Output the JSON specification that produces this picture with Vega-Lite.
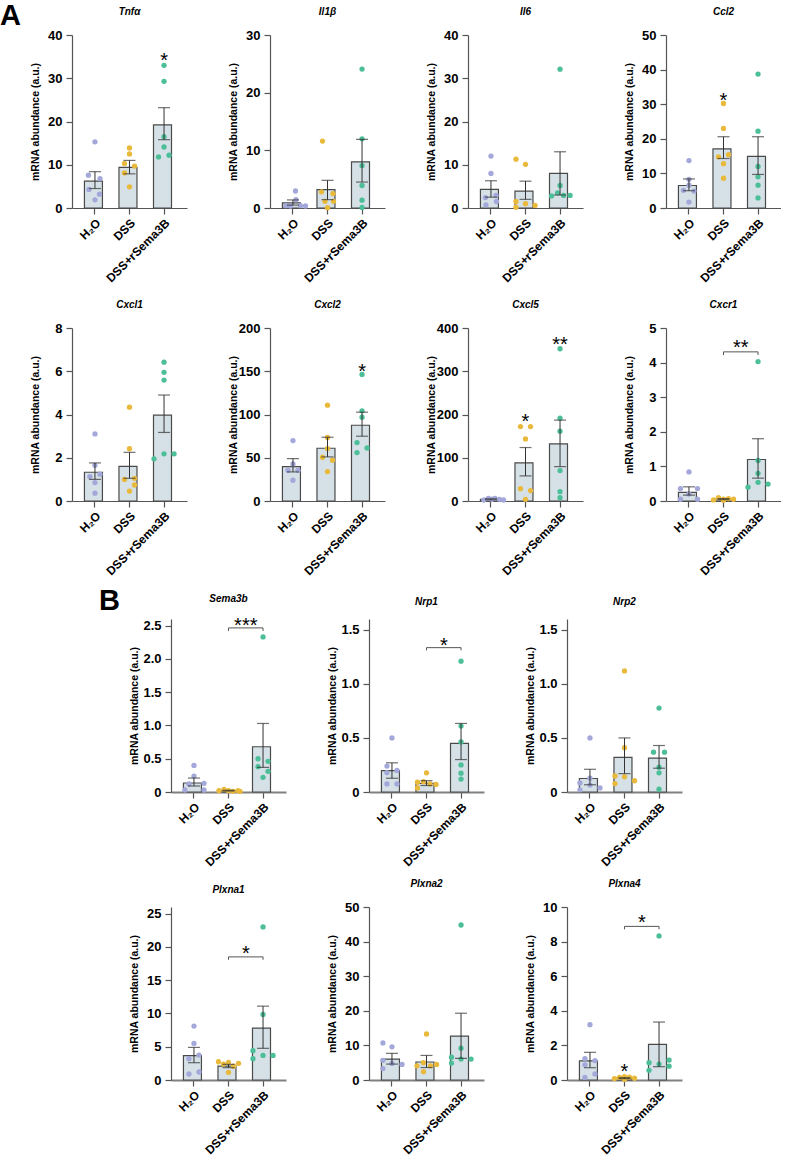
{
"$schema": "https://vega.github.io/schema/vega-lite/v6.json",
"padding": {"left": 0, "top": 2, "right": 0, "bottom": 0},
"data": {"name": "d"},
"datasets": {"d": [
{"gene":"Tnfα","group":"H₂O","mean":6.2,"lo":4.5,"hi":8.4},
{"gene":"Tnfα","group":"DSS","mean":9.4,"lo":7.9,"hi":11.0},
{"gene":"Tnfα","group":"DSS+rSema3B","mean":19.2,"lo":15.8,"hi":23.2},
{"gene":"Tnfα","group":"H₂O","v":15.3,"j":0},{"gene":"Tnfα","group":"H₂O","v":7.6,"j":-1.3},{"gene":"Tnfα","group":"H₂O","v":6.8,"j":1},{"gene":"Tnfα","group":"H₂O","v":4.3,"j":-1.2},{"gene":"Tnfα","group":"H₂O","v":3.2,"j":0.9},{"gene":"Tnfα","group":"H₂O","v":1.9,"j":0},
{"gene":"Tnfα","group":"DSS","v":13.9,"j":0},{"gene":"Tnfα","group":"DSS","v":12.5,"j":0},{"gene":"Tnfα","group":"DSS","v":10.3,"j":-1},{"gene":"Tnfα","group":"DSS","v":9.7,"j":1},{"gene":"Tnfα","group":"DSS","v":8.1,"j":-1},{"gene":"Tnfα","group":"DSS","v":4.9,"j":0},
{"gene":"Tnfα","group":"DSS+rSema3B","v":33.0,"j":0},{"gene":"Tnfα","group":"DSS+rSema3B","v":29.3,"j":0},{"gene":"Tnfα","group":"DSS+rSema3B","v":16.5,"j":0},{"gene":"Tnfα","group":"DSS+rSema3B","v":14.1,"j":0},{"gene":"Tnfα","group":"DSS+rSema3B","v":11.8,"j":-1.1},{"gene":"Tnfα","group":"DSS+rSema3B","v":12.2,"j":1},
{"gene":"Tnfα","group":"DSS+rSema3B","star":"*","sy":35.4},

{"gene":"Il1β","group":"H₂O","mean":0.9,"lo":0.5,"hi":1.4},
{"gene":"Il1β","group":"DSS","mean":3.2,"lo":1.45,"hi":4.8},
{"gene":"Il1β","group":"DSS+rSema3B","mean":8.0,"lo":4.5,"hi":11.9},
{"gene":"Il1β","group":"H₂O","v":2.95,"j":0.5},{"gene":"Il1β","group":"H₂O","v":1.45,"j":0.6},{"gene":"Il1β","group":"H₂O","v":0.4,"j":-1.4},{"gene":"Il1β","group":"H₂O","v":0.35,"j":-0.5},{"gene":"Il1β","group":"H₂O","v":0.4,"j":1.5},{"gene":"Il1β","group":"H₂O","v":0.35,"j":2.5},
{"gene":"Il1β","group":"DSS","v":11.6,"j":-1},{"gene":"Il1β","group":"DSS","v":2.8,"j":-1.2},{"gene":"Il1β","group":"DSS","v":2.5,"j":1.1},{"gene":"Il1β","group":"DSS","v":1.15,"j":-0.5},{"gene":"Il1β","group":"DSS","v":1.15,"j":1.2},{"gene":"Il1β","group":"DSS","v":0.05,"j":0},
{"gene":"Il1β","group":"DSS+rSema3B","v":24.1,"j":0},{"gene":"Il1β","group":"DSS+rSema3B","v":12.0,"j":0},{"gene":"Il1β","group":"DSS+rSema3B","v":7.35,"j":0},{"gene":"Il1β","group":"DSS+rSema3B","v":3.9,"j":0},{"gene":"Il1β","group":"DSS+rSema3B","v":1.35,"j":0},{"gene":"Il1β","group":"DSS+rSema3B","v":0.1,"j":0},

{"gene":"Il6","group":"H₂O","mean":4.3,"lo":2.5,"hi":6.3},
{"gene":"Il6","group":"DSS","mean":3.9,"lo":2.0,"hi":6.2},
{"gene":"Il6","group":"DSS+rSema3B","mean":8.0,"lo":3.0,"hi":13.0},
{"gene":"Il6","group":"H₂O","v":12.0,"j":0},{"gene":"Il6","group":"H₂O","v":8.0,"j":0},{"gene":"Il6","group":"H₂O","v":2.4,"j":-1.1},{"gene":"Il6","group":"H₂O","v":2.9,"j":1},{"gene":"Il6","group":"H₂O","v":1.5,"j":1.1},{"gene":"Il6","group":"H₂O","v":0.7,"j":-1},
{"gene":"Il6","group":"DSS","v":11.3,"j":-1.9},{"gene":"Il6","group":"DSS","v":10.1,"j":0},{"gene":"Il6","group":"DSS","v":1.5,"j":-1.9},{"gene":"Il6","group":"DSS","v":1.0,"j":0},{"gene":"Il6","group":"DSS","v":0.2,"j":-1.9},{"gene":"Il6","group":"DSS","v":0.6,"j":1.9},
{"gene":"Il6","group":"DSS+rSema3B","v":32.1,"j":0},{"gene":"Il6","group":"DSS+rSema3B","v":5.2,"j":0},{"gene":"Il6","group":"DSS+rSema3B","v":2.8,"j":-1.7},{"gene":"Il6","group":"DSS+rSema3B","v":3.5,"j":-0.5},{"gene":"Il6","group":"DSS+rSema3B","v":2.9,"j":0.7},{"gene":"Il6","group":"DSS+rSema3B","v":2.9,"j":2},

{"gene":"Ccl2","group":"H₂O","mean":6.5,"lo":5.0,"hi":8.4},
{"gene":"Ccl2","group":"DSS","mean":17.1,"lo":14.3,"hi":20.6},
{"gene":"Ccl2","group":"DSS+rSema3B","mean":14.9,"lo":9.7,"hi":20.6},
{"gene":"Ccl2","group":"H₂O","v":13.7,"j":0},{"gene":"Ccl2","group":"H₂O","v":8.3,"j":0},{"gene":"Ccl2","group":"H₂O","v":6.6,"j":0},{"gene":"Ccl2","group":"H₂O","v":5.1,"j":-1.1},{"gene":"Ccl2","group":"H₂O","v":4.9,"j":1},{"gene":"Ccl2","group":"H₂O","v":1.7,"j":0},
{"gene":"Ccl2","group":"DSS","v":30.2,"j":0},{"gene":"Ccl2","group":"DSS","v":23.0,"j":0},{"gene":"Ccl2","group":"DSS","v":14.8,"j":-1},{"gene":"Ccl2","group":"DSS","v":15.4,"j":1},{"gene":"Ccl2","group":"DSS","v":12.8,"j":0},{"gene":"Ccl2","group":"DSS","v":8.6,"j":0},
{"gene":"Ccl2","group":"DSS+rSema3B","v":38.7,"j":0},{"gene":"Ccl2","group":"DSS+rSema3B","v":22.2,"j":0},{"gene":"Ccl2","group":"DSS+rSema3B","v":12.0,"j":0},{"gene":"Ccl2","group":"DSS+rSema3B","v":9.0,"j":0},{"gene":"Ccl2","group":"DSS+rSema3B","v":6.6,"j":0},{"gene":"Ccl2","group":"DSS+rSema3B","v":2.9,"j":0},
{"gene":"Ccl2","group":"DSS","star":"*","sy":32.8},

{"gene":"Cxcl1","group":"H₂O","mean":1.33,"lo":1.0,"hi":1.76},
{"gene":"Cxcl1","group":"DSS","mean":1.6,"lo":1.05,"hi":2.25},
{"gene":"Cxcl1","group":"DSS+rSema3B","mean":3.97,"lo":3.17,"hi":4.9},
{"gene":"Cxcl1","group":"H₂O","v":3.1,"j":0},{"gene":"Cxcl1","group":"H₂O","v":1.65,"j":0},{"gene":"Cxcl1","group":"H₂O","v":1.13,"j":-1},{"gene":"Cxcl1","group":"H₂O","v":1.24,"j":1},{"gene":"Cxcl1","group":"H₂O","v":0.85,"j":0},{"gene":"Cxcl1","group":"H₂O","v":0.36,"j":0},
{"gene":"Cxcl1","group":"DSS","v":4.34,"j":0},{"gene":"Cxcl1","group":"DSS","v":2.42,"j":0},{"gene":"Cxcl1","group":"DSS","v":1.0,"j":-1},{"gene":"Cxcl1","group":"DSS","v":1.05,"j":1},{"gene":"Cxcl1","group":"DSS","v":0.74,"j":1},{"gene":"Cxcl1","group":"DSS","v":0.46,"j":0},
{"gene":"Cxcl1","group":"DSS+rSema3B","v":6.42,"j":0},{"gene":"Cxcl1","group":"DSS+rSema3B","v":5.95,"j":0},{"gene":"Cxcl1","group":"DSS+rSema3B","v":5.59,"j":0},{"gene":"Cxcl1","group":"DSS+rSema3B","v":1.95,"j":-2},{"gene":"Cxcl1","group":"DSS+rSema3B","v":2.18,"j":0},{"gene":"Cxcl1","group":"DSS+rSema3B","v":2.18,"j":2},

{"gene":"Cxcl2","group":"H₂O","mean":39.8,"lo":33.6,"hi":49},
{"gene":"Cxcl2","group":"DSS","mean":61,"lo":51,"hi":73.7},
{"gene":"Cxcl2","group":"DSS+rSema3B","mean":87.6,"lo":74.9,"hi":102.7},
{"gene":"Cxcl2","group":"H₂O","v":69.9,"j":0},{"gene":"Cxcl2","group":"H₂O","v":42.9,"j":0},{"gene":"Cxcl2","group":"H₂O","v":35.5,"j":-1},{"gene":"Cxcl2","group":"H₂O","v":35.5,"j":1},{"gene":"Cxcl2","group":"H₂O","v":24,"j":0},
{"gene":"Cxcl2","group":"DSS","v":110.8,"j":0},{"gene":"Cxcl2","group":"DSS","v":73.4,"j":0},{"gene":"Cxcl2","group":"DSS","v":60.6,"j":0},{"gene":"Cxcl2","group":"DSS","v":50.6,"j":-1},{"gene":"Cxcl2","group":"DSS","v":47.1,"j":1},{"gene":"Cxcl2","group":"DSS","v":34,"j":0},
{"gene":"Cxcl2","group":"DSS+rSema3B","v":146.3,"j":0},{"gene":"Cxcl2","group":"DSS+rSema3B","v":104.2,"j":0},{"gene":"Cxcl2","group":"DSS+rSema3B","v":96.9,"j":0},{"gene":"Cxcl2","group":"DSS+rSema3B","v":67.6,"j":-1},{"gene":"Cxcl2","group":"DSS+rSema3B","v":56,"j":-1},{"gene":"Cxcl2","group":"DSS+rSema3B","v":61.4,"j":1},
{"gene":"Cxcl2","group":"DSS+rSema3B","star":"*","sy":156},

{"gene":"Cxcl5","group":"H₂O","mean":4,"lo":2.8,"hi":5.2},
{"gene":"Cxcl5","group":"DSS","mean":88,"lo":58,"hi":123.6},
{"gene":"Cxcl5","group":"DSS+rSema3B","mean":132,"lo":79.5,"hi":187},
{"gene":"Cxcl5","group":"H₂O","v":2.3,"j":-1.4},{"gene":"Cxcl5","group":"H₂O","v":6.2,"j":-0.5},{"gene":"Cxcl5","group":"H₂O","v":4,"j":0.2},{"gene":"Cxcl5","group":"H₂O","v":6.2,"j":0.8},{"gene":"Cxcl5","group":"H₂O","v":3.9,"j":1.7},{"gene":"Cxcl5","group":"H₂O","v":2.3,"j":2.5},
{"gene":"Cxcl5","group":"DSS","v":172,"j":-1},{"gene":"Cxcl5","group":"DSS","v":172,"j":1},{"gene":"Cxcl5","group":"DSS","v":143.6,"j":0},{"gene":"Cxcl5","group":"DSS","v":28.6,"j":-1},{"gene":"Cxcl5","group":"DSS","v":24,"j":1},{"gene":"Cxcl5","group":"DSS","v":3.9,"j":0},
{"gene":"Cxcl5","group":"DSS+rSema3B","v":352,"j":0},{"gene":"Cxcl5","group":"DSS+rSema3B","v":191.5,"j":0},{"gene":"Cxcl5","group":"DSS+rSema3B","v":161.4,"j":0},{"gene":"Cxcl5","group":"DSS+rSema3B","v":70.3,"j":0},{"gene":"Cxcl5","group":"DSS+rSema3B","v":21.6,"j":0},{"gene":"Cxcl5","group":"DSS+rSema3B","v":7.7,"j":0},
{"gene":"Cxcl5","group":"DSS","star":"*","sy":197},
{"gene":"Cxcl5","group":"DSS+rSema3B","star":"**","sy":374},

{"gene":"Cxcr1","group":"H₂O","mean":0.25,"lo":0.17,"hi":0.41},
{"gene":"Cxcr1","group":"DSS","mean":0.055,"lo":0.04,"hi":0.07},
{"gene":"Cxcr1","group":"DSS+rSema3B","mean":1.2,"lo":0.66,"hi":1.8},
{"gene":"Cxcr1","group":"H₂O","v":0.84,"j":0},{"gene":"Cxcr1","group":"H₂O","v":0.36,"j":-1.7},{"gene":"Cxcr1","group":"H₂O","v":0.36,"j":1.7},{"gene":"Cxcr1","group":"H₂O","v":0.2,"j":0},{"gene":"Cxcr1","group":"H₂O","v":0.05,"j":-1.7},{"gene":"Cxcr1","group":"H₂O","v":0.05,"j":1.7},
{"gene":"Cxcr1","group":"DSS","v":0.03,"j":-2},{"gene":"Cxcr1","group":"DSS","v":0.1,"j":-1},{"gene":"Cxcr1","group":"DSS","v":0.05,"j":0},{"gene":"Cxcr1","group":"DSS","v":0.07,"j":1},{"gene":"Cxcr1","group":"DSS","v":0.05,"j":2},{"gene":"Cxcr1","group":"DSS","v":0.02,"j":0},
{"gene":"Cxcr1","group":"DSS+rSema3B","v":4.03,"j":0},{"gene":"Cxcr1","group":"DSS+rSema3B","v":1.17,"j":0},{"gene":"Cxcr1","group":"DSS+rSema3B","v":0.8,"j":0},{"gene":"Cxcr1","group":"DSS+rSema3B","v":0.4,"j":-2},{"gene":"Cxcr1","group":"DSS+rSema3B","v":0.54,"j":0},{"gene":"Cxcr1","group":"DSS+rSema3B","v":0.49,"j":2},
{"gene":"Cxcr1","group":"DSS","g2":"DSS+rSema3B","by":4.31,"bt":4.22,"bs":"**","sy2":4.6},

{"gene":"Sema3b","group":"H₂O","mean":0.135,"lo":0.09,"hi":0.21},
{"gene":"Sema3b","group":"DSS","mean":0.02,"lo":0.015,"hi":0.025},
{"gene":"Sema3b","group":"DSS+rSema3B","mean":0.68,"lo":0.37,"hi":1.03},
{"gene":"Sema3b","group":"H₂O","v":0.4,"j":0},{"gene":"Sema3b","group":"H₂O","v":0.24,"j":0},{"gene":"Sema3b","group":"H₂O","v":0.12,"j":-1},{"gene":"Sema3b","group":"H₂O","v":0.13,"j":2},{"gene":"Sema3b","group":"H₂O","v":0.03,"j":-1.8},{"gene":"Sema3b","group":"H₂O","v":0.03,"j":2},
{"gene":"Sema3b","group":"DSS","v":0.02,"j":-1.9},{"gene":"Sema3b","group":"DSS","v":0.04,"j":-0.9},{"gene":"Sema3b","group":"DSS","v":0.02,"j":0},{"gene":"Sema3b","group":"DSS","v":0.01,"j":0.9},{"gene":"Sema3b","group":"DSS","v":0.02,"j":1.9},{"gene":"Sema3b","group":"DSS","v":0.01,"j":2.3},
{"gene":"Sema3b","group":"DSS+rSema3B","v":2.33,"j":0},{"gene":"Sema3b","group":"DSS+rSema3B","v":0.5,"j":-1},{"gene":"Sema3b","group":"DSS+rSema3B","v":0.46,"j":1},{"gene":"Sema3b","group":"DSS+rSema3B","v":0.38,"j":-1},{"gene":"Sema3b","group":"DSS+rSema3B","v":0.31,"j":1},{"gene":"Sema3b","group":"DSS+rSema3B","v":0.22,"j":0},
{"gene":"Sema3b","group":"DSS","g2":"DSS+rSema3B","by":2.466,"bt":2.42,"bs":"***","sy2":2.59},

{"gene":"Nrp1","group":"H₂O","mean":0.197,"lo":0.127,"hi":0.27},
{"gene":"Nrp1","group":"DSS","mean":0.08,"lo":0.06,"hi":0.105},
{"gene":"Nrp1","group":"DSS+rSema3B","mean":0.45,"lo":0.3,"hi":0.634},
{"gene":"Nrp1","group":"H₂O","v":0.5,"j":0},{"gene":"Nrp1","group":"H₂O","v":0.24,"j":-1},{"gene":"Nrp1","group":"H₂O","v":0.2,"j":1},{"gene":"Nrp1","group":"H₂O","v":0.18,"j":-1},{"gene":"Nrp1","group":"H₂O","v":0.075,"j":-1},{"gene":"Nrp1","group":"H₂O","v":0.075,"j":1},
{"gene":"Nrp1","group":"DSS","v":0.177,"j":0},{"gene":"Nrp1","group":"DSS","v":0.09,"j":-1.8},{"gene":"Nrp1","group":"DSS","v":0.095,"j":-0.6},{"gene":"Nrp1","group":"DSS","v":0.075,"j":0.7},{"gene":"Nrp1","group":"DSS","v":0.07,"j":1.9},{"gene":"Nrp1","group":"DSS","v":0.038,"j":-1.8},
{"gene":"Nrp1","group":"DSS+rSema3B","v":1.21,"j":0},{"gene":"Nrp1","group":"DSS+rSema3B","v":0.61,"j":0},{"gene":"Nrp1","group":"DSS+rSema3B","v":0.463,"j":0},{"gene":"Nrp1","group":"DSS+rSema3B","v":0.25,"j":0},{"gene":"Nrp1","group":"DSS+rSema3B","v":0.174,"j":0},{"gene":"Nrp1","group":"DSS+rSema3B","v":0.12,"j":0},
{"gene":"Nrp1","group":"DSS","g2":"DSS+rSema3B","by":1.335,"bt":1.31,"bs":"*","sy2":1.41},

{"gene":"Nrp2","group":"H₂O","mean":0.125,"lo":0.067,"hi":0.21},
{"gene":"Nrp2","group":"DSS","mean":0.32,"lo":0.17,"hi":0.5},
{"gene":"Nrp2","group":"DSS+rSema3B","mean":0.313,"lo":0.22,"hi":0.43},
{"gene":"Nrp2","group":"H₂O","v":0.5,"j":0},{"gene":"Nrp2","group":"H₂O","v":0.127,"j":0},{"gene":"Nrp2","group":"H₂O","v":0.084,"j":-2},{"gene":"Nrp2","group":"H₂O","v":0.064,"j":0},{"gene":"Nrp2","group":"H₂O","v":0.038,"j":2},{"gene":"Nrp2","group":"H₂O","v":0.02,"j":-2},
{"gene":"Nrp2","group":"DSS","v":1.12,"j":0},{"gene":"Nrp2","group":"DSS","v":0.41,"j":0},{"gene":"Nrp2","group":"DSS","v":0.148,"j":-1.9},{"gene":"Nrp2","group":"DSS","v":0.14,"j":0},{"gene":"Nrp2","group":"DSS","v":0.104,"j":2},{"gene":"Nrp2","group":"DSS","v":0.078,"j":-1.9},
{"gene":"Nrp2","group":"DSS+rSema3B","v":0.776,"j":0},{"gene":"Nrp2","group":"DSS+rSema3B","v":0.368,"j":-1.1},{"gene":"Nrp2","group":"DSS+rSema3B","v":0.368,"j":1.1},{"gene":"Nrp2","group":"DSS+rSema3B","v":0.229,"j":0},{"gene":"Nrp2","group":"DSS+rSema3B","v":0.177,"j":0},{"gene":"Nrp2","group":"DSS+rSema3B","v":0.026,"j":0},

{"gene":"Plxna1","group":"H₂O","mean":3.65,"lo":2.6,"hi":4.9},
{"gene":"Plxna1","group":"DSS","mean":2.1,"lo":1.85,"hi":2.35},
{"gene":"Plxna1","group":"DSS+rSema3B","mean":7.8,"lo":4.76,"hi":11.1},
{"gene":"Plxna1","group":"H₂O","v":8.1,"j":0},{"gene":"Plxna1","group":"H₂O","v":5.5,"j":0},{"gene":"Plxna1","group":"H₂O","v":3.2,"j":-1},{"gene":"Plxna1","group":"H₂O","v":3.75,"j":1},{"gene":"Plxna1","group":"H₂O","v":0.9,"j":-1},{"gene":"Plxna1","group":"H₂O","v":1.2,"j":1},
{"gene":"Plxna1","group":"DSS","v":2.74,"j":-2},{"gene":"Plxna1","group":"DSS","v":2.4,"j":-1},{"gene":"Plxna1","group":"DSS","v":2.64,"j":0},{"gene":"Plxna1","group":"DSS","v":2.07,"j":1},{"gene":"Plxna1","group":"DSS","v":2.5,"j":2},{"gene":"Plxna1","group":"DSS","v":1.15,"j":0},
{"gene":"Plxna1","group":"DSS+rSema3B","v":23.0,"j":0},{"gene":"Plxna1","group":"DSS+rSema3B","v":9.85,"j":0},{"gene":"Plxna1","group":"DSS+rSema3B","v":4.4,"j":-2},{"gene":"Plxna1","group":"DSS+rSema3B","v":3.2,"j":-2},{"gene":"Plxna1","group":"DSS+rSema3B","v":3.7,"j":0},{"gene":"Plxna1","group":"DSS+rSema3B","v":3.7,"j":2},
{"gene":"Plxna1","group":"DSS","g2":"DSS+rSema3B","by":18.5,"bt":18.07,"bs":"*","sy2":19.8},

{"gene":"Plxna2","group":"H₂O","mean":6.06,"lo":4.6,"hi":7.7},
{"gene":"Plxna2","group":"DSS","mean":5.2,"lo":3.6,"hi":7.1},
{"gene":"Plxna2","group":"DSS+rSema3B","mean":12.7,"lo":6.25,"hi":19.3},
{"gene":"Plxna2","group":"H₂O","v":10.7,"j":-1.8},{"gene":"Plxna2","group":"H₂O","v":9.6,"j":0},{"gene":"Plxna2","group":"H₂O","v":5.7,"j":-1.8},{"gene":"Plxna2","group":"H₂O","v":4.8,"j":0},{"gene":"Plxna2","group":"H₂O","v":4.5,"j":2},{"gene":"Plxna2","group":"H₂O","v":3.3,"j":-1.8},
{"gene":"Plxna2","group":"DSS","v":13.3,"j":0},{"gene":"Plxna2","group":"DSS","v":4.1,"j":-1.9},{"gene":"Plxna2","group":"DSS","v":5.0,"j":-0.6},{"gene":"Plxna2","group":"DSS","v":4.1,"j":0.8},{"gene":"Plxna2","group":"DSS","v":4.5,"j":2},{"gene":"Plxna2","group":"DSS","v":2.4,"j":-0.6},
{"gene":"Plxna2","group":"DSS+rSema3B","v":44.8,"j":0},{"gene":"Plxna2","group":"DSS+rSema3B","v":9.2,"j":0},{"gene":"Plxna2","group":"DSS+rSema3B","v":6.6,"j":-1.9},{"gene":"Plxna2","group":"DSS+rSema3B","v":6.06,"j":0},{"gene":"Plxna2","group":"DSS+rSema3B","v":6.06,"j":2},{"gene":"Plxna2","group":"DSS+rSema3B","v":4.9,"j":-1.9},

{"gene":"Plxna4","group":"H₂O","mean":1.1,"lo":0.71,"hi":1.6},
{"gene":"Plxna4","group":"DSS","mean":0.11,"lo":0.08,"hi":0.14},
{"gene":"Plxna4","group":"DSS+rSema3B","mean":2.06,"lo":0.77,"hi":3.35},
{"gene":"Plxna4","group":"H₂O","v":3.2,"j":0},{"gene":"Plxna4","group":"H₂O","v":1.23,"j":-1},{"gene":"Plxna4","group":"H₂O","v":1.12,"j":1},{"gene":"Plxna4","group":"H₂O","v":0.88,"j":-1},{"gene":"Plxna4","group":"H₂O","v":0.35,"j":1},{"gene":"Plxna4","group":"H₂O","v":0.15,"j":-1},
{"gene":"Plxna4","group":"DSS","v":0.08,"j":-2},{"gene":"Plxna4","group":"DSS","v":0.15,"j":-1},{"gene":"Plxna4","group":"DSS","v":0.2,"j":0},{"gene":"Plxna4","group":"DSS","v":0.17,"j":1},{"gene":"Plxna4","group":"DSS","v":0.1,"j":2},{"gene":"Plxna4","group":"DSS","v":0.04,"j":0},
{"gene":"Plxna4","group":"DSS+rSema3B","v":8.33,"j":0},{"gene":"Plxna4","group":"DSS+rSema3B","v":1.0,"j":-2},{"gene":"Plxna4","group":"DSS+rSema3B","v":0.92,"j":0},{"gene":"Plxna4","group":"DSS+rSema3B","v":1.15,"j":2},{"gene":"Plxna4","group":"DSS+rSema3B","v":0.56,"j":-2},{"gene":"Plxna4","group":"DSS+rSema3B","v":0.8,"j":2},
{"gene":"Plxna4","group":"DSS","star":"*","sy":0.79},
{"gene":"Plxna4","group":"DSS","g2":"DSS+rSema3B","by":8.88,"bt":8.71,"bs":"*","sy2":9.42}
]},
"vconcat": [
{
"title": {"text": "A", "fontSize": 29, "fontStyle": "normal", "fontWeight": "bold", "anchor": "start", "dx": -30, "offset": -24},
"columns": 4,
"spacing": {"column": 41, "row": 16},
"concat": [
{"title": "Tnfα", "width": 115, "height": 173, "transform": [{"filter": "datum.gene === 'Tnfα'"}], "layer": [
 {"mark": {"type": "bar", "fill": "#d5e1e7", "stroke": "#4a4a4a", "strokeWidth": 1.2}, "encoding": {"x": {"field": "group", "type": "nominal", "sort": null, "scale": {"domain": ["H₂O", "DSS", "DSS+rSema3B"], "paddingInner": 0.39, "paddingOuter": 0.36}, "axis": {"title": null}}, "y": {"field": "mean", "type": "quantitative", "scale": {"domain": [0, 40]}, "axis": {"title": "mRNA abundance (a.u.)", "values": [0, 10, 20, 30, 40], "tickCount": 12, "format": "d"}}}},
 {"mark": "circle", "encoding": {"x": {"field": "group", "type": "nominal"}, "xOffset": {"field": "j", "type": "quantitative", "scale": {"domain": [-2.1, 2.1]}}, "y": {"field": "v", "type": "quantitative"}, "color": {"field": "group", "type": "nominal"}}},
 {"mark": {"type": "rule", "color": "#333"}, "encoding": {"x": {"field": "group", "type": "nominal"}, "y": {"field": "lo", "type": "quantitative"}, "y2": {"field": "hi"}}},
 {"mark": {"type": "tick", "size": 12, "thickness": 1.2, "color": "#333"}, "encoding": {"x": {"field": "group", "type": "nominal"}, "y": {"field": "hi", "type": "quantitative"}}},
 {"mark": {"type": "tick", "size": 12, "thickness": 1.2, "color": "#333"}, "encoding": {"x": {"field": "group", "type": "nominal"}, "y": {"field": "lo", "type": "quantitative"}}},
 {"mark": {"type": "text", "fontSize": 20, "dy": 6}, "encoding": {"x": {"field": "group", "type": "nominal"}, "y": {"field": "sy", "type": "quantitative"}, "text": {"field": "star"}}}
]},
{"title": "Il1β", "width": 115, "height": 173, "transform": [{"filter": "datum.gene === 'Il1β'"}], "layer": [
 {"mark": {"type": "bar", "fill": "#d5e1e7", "stroke": "#4a4a4a", "strokeWidth": 1.2}, "encoding": {"x": {"field": "group", "type": "nominal", "sort": null, "scale": {"domain": ["H₂O", "DSS", "DSS+rSema3B"], "paddingInner": 0.39, "paddingOuter": 0.36}, "axis": {"title": null}}, "y": {"field": "mean", "type": "quantitative", "scale": {"domain": [0, 30]}, "axis": {"title": "mRNA abundance (a.u.)", "values": [0, 10, 20, 30], "tickCount": 12, "format": "d"}}}},
 {"mark": "circle", "encoding": {"x": {"field": "group", "type": "nominal"}, "xOffset": {"field": "j", "type": "quantitative", "scale": {"domain": [-2.1, 2.1]}}, "y": {"field": "v", "type": "quantitative"}, "color": {"field": "group", "type": "nominal"}}},
 {"mark": {"type": "rule", "color": "#333"}, "encoding": {"x": {"field": "group", "type": "nominal"}, "y": {"field": "lo", "type": "quantitative"}, "y2": {"field": "hi"}}},
 {"mark": {"type": "tick", "size": 12, "thickness": 1.2, "color": "#333"}, "encoding": {"x": {"field": "group", "type": "nominal"}, "y": {"field": "hi", "type": "quantitative"}}},
 {"mark": {"type": "tick", "size": 12, "thickness": 1.2, "color": "#333"}, "encoding": {"x": {"field": "group", "type": "nominal"}, "y": {"field": "lo", "type": "quantitative"}}}
]},
{"title": "Il6", "width": 115, "height": 173, "transform": [{"filter": "datum.gene === 'Il6'"}], "layer": [
 {"mark": {"type": "bar", "fill": "#d5e1e7", "stroke": "#4a4a4a", "strokeWidth": 1.2}, "encoding": {"x": {"field": "group", "type": "nominal", "sort": null, "scale": {"domain": ["H₂O", "DSS", "DSS+rSema3B"], "paddingInner": 0.39, "paddingOuter": 0.36}, "axis": {"title": null}}, "y": {"field": "mean", "type": "quantitative", "scale": {"domain": [0, 40]}, "axis": {"title": "mRNA abundance (a.u.)", "values": [0, 10, 20, 30, 40], "tickCount": 12, "format": "d"}}}},
 {"mark": "circle", "encoding": {"x": {"field": "group", "type": "nominal"}, "xOffset": {"field": "j", "type": "quantitative", "scale": {"domain": [-2.1, 2.1]}}, "y": {"field": "v", "type": "quantitative"}, "color": {"field": "group", "type": "nominal"}}},
 {"mark": {"type": "rule", "color": "#333"}, "encoding": {"x": {"field": "group", "type": "nominal"}, "y": {"field": "lo", "type": "quantitative"}, "y2": {"field": "hi"}}},
 {"mark": {"type": "tick", "size": 12, "thickness": 1.2, "color": "#333"}, "encoding": {"x": {"field": "group", "type": "nominal"}, "y": {"field": "hi", "type": "quantitative"}}},
 {"mark": {"type": "tick", "size": 12, "thickness": 1.2, "color": "#333"}, "encoding": {"x": {"field": "group", "type": "nominal"}, "y": {"field": "lo", "type": "quantitative"}}}
]},
{"title": "Ccl2", "width": 115, "height": 173, "transform": [{"filter": "datum.gene === 'Ccl2'"}], "layer": [
 {"mark": {"type": "bar", "fill": "#d5e1e7", "stroke": "#4a4a4a", "strokeWidth": 1.2}, "encoding": {"x": {"field": "group", "type": "nominal", "sort": null, "scale": {"domain": ["H₂O", "DSS", "DSS+rSema3B"], "paddingInner": 0.39, "paddingOuter": 0.36}, "axis": {"title": null}}, "y": {"field": "mean", "type": "quantitative", "scale": {"domain": [0, 50]}, "axis": {"title": "mRNA abundance (a.u.)", "values": [0, 10, 20, 30, 40, 50], "tickCount": 12, "format": "d"}}}},
 {"mark": "circle", "encoding": {"x": {"field": "group", "type": "nominal"}, "xOffset": {"field": "j", "type": "quantitative", "scale": {"domain": [-2.1, 2.1]}}, "y": {"field": "v", "type": "quantitative"}, "color": {"field": "group", "type": "nominal"}}},
 {"mark": {"type": "rule", "color": "#333"}, "encoding": {"x": {"field": "group", "type": "nominal"}, "y": {"field": "lo", "type": "quantitative"}, "y2": {"field": "hi"}}},
 {"mark": {"type": "tick", "size": 12, "thickness": 1.2, "color": "#333"}, "encoding": {"x": {"field": "group", "type": "nominal"}, "y": {"field": "hi", "type": "quantitative"}}},
 {"mark": {"type": "tick", "size": 12, "thickness": 1.2, "color": "#333"}, "encoding": {"x": {"field": "group", "type": "nominal"}, "y": {"field": "lo", "type": "quantitative"}}},
 {"mark": {"type": "text", "fontSize": 20, "dy": 6}, "encoding": {"x": {"field": "group", "type": "nominal"}, "y": {"field": "sy", "type": "quantitative"}, "text": {"field": "star"}}}
]},
{"title": "Cxcl1", "width": 115, "height": 173, "transform": [{"filter": "datum.gene === 'Cxcl1'"}], "layer": [
 {"mark": {"type": "bar", "fill": "#d5e1e7", "stroke": "#4a4a4a", "strokeWidth": 1.2}, "encoding": {"x": {"field": "group", "type": "nominal", "sort": null, "scale": {"domain": ["H₂O", "DSS", "DSS+rSema3B"], "paddingInner": 0.39, "paddingOuter": 0.36}, "axis": {"title": null}}, "y": {"field": "mean", "type": "quantitative", "scale": {"domain": [0, 8]}, "axis": {"title": "mRNA abundance (a.u.)", "values": [0, 2, 4, 6, 8], "tickCount": 12, "format": "d"}}}},
 {"mark": "circle", "encoding": {"x": {"field": "group", "type": "nominal"}, "xOffset": {"field": "j", "type": "quantitative", "scale": {"domain": [-2.1, 2.1]}}, "y": {"field": "v", "type": "quantitative"}, "color": {"field": "group", "type": "nominal"}}},
 {"mark": {"type": "rule", "color": "#333"}, "encoding": {"x": {"field": "group", "type": "nominal"}, "y": {"field": "lo", "type": "quantitative"}, "y2": {"field": "hi"}}},
 {"mark": {"type": "tick", "size": 12, "thickness": 1.2, "color": "#333"}, "encoding": {"x": {"field": "group", "type": "nominal"}, "y": {"field": "hi", "type": "quantitative"}}},
 {"mark": {"type": "tick", "size": 12, "thickness": 1.2, "color": "#333"}, "encoding": {"x": {"field": "group", "type": "nominal"}, "y": {"field": "lo", "type": "quantitative"}}}
]},
{"title": "Cxcl2", "width": 115, "height": 173, "transform": [{"filter": "datum.gene === 'Cxcl2'"}], "layer": [
 {"mark": {"type": "bar", "fill": "#d5e1e7", "stroke": "#4a4a4a", "strokeWidth": 1.2}, "encoding": {"x": {"field": "group", "type": "nominal", "sort": null, "scale": {"domain": ["H₂O", "DSS", "DSS+rSema3B"], "paddingInner": 0.39, "paddingOuter": 0.36}, "axis": {"title": null}}, "y": {"field": "mean", "type": "quantitative", "scale": {"domain": [0, 200]}, "axis": {"title": "mRNA abundance (a.u.)", "values": [0, 50, 100, 150, 200], "tickCount": 12, "format": "d"}}}},
 {"mark": "circle", "encoding": {"x": {"field": "group", "type": "nominal"}, "xOffset": {"field": "j", "type": "quantitative", "scale": {"domain": [-2.1, 2.1]}}, "y": {"field": "v", "type": "quantitative"}, "color": {"field": "group", "type": "nominal"}}},
 {"mark": {"type": "rule", "color": "#333"}, "encoding": {"x": {"field": "group", "type": "nominal"}, "y": {"field": "lo", "type": "quantitative"}, "y2": {"field": "hi"}}},
 {"mark": {"type": "tick", "size": 12, "thickness": 1.2, "color": "#333"}, "encoding": {"x": {"field": "group", "type": "nominal"}, "y": {"field": "hi", "type": "quantitative"}}},
 {"mark": {"type": "tick", "size": 12, "thickness": 1.2, "color": "#333"}, "encoding": {"x": {"field": "group", "type": "nominal"}, "y": {"field": "lo", "type": "quantitative"}}},
 {"mark": {"type": "text", "fontSize": 20, "dy": 6}, "encoding": {"x": {"field": "group", "type": "nominal"}, "y": {"field": "sy", "type": "quantitative"}, "text": {"field": "star"}}}
]},
{"title": "Cxcl5", "width": 115, "height": 173, "transform": [{"filter": "datum.gene === 'Cxcl5'"}], "layer": [
 {"mark": {"type": "bar", "fill": "#d5e1e7", "stroke": "#4a4a4a", "strokeWidth": 1.2}, "encoding": {"x": {"field": "group", "type": "nominal", "sort": null, "scale": {"domain": ["H₂O", "DSS", "DSS+rSema3B"], "paddingInner": 0.39, "paddingOuter": 0.36}, "axis": {"title": null}}, "y": {"field": "mean", "type": "quantitative", "scale": {"domain": [0, 400]}, "axis": {"title": "mRNA abundance (a.u.)", "values": [0, 100, 200, 300, 400], "tickCount": 12, "format": "d"}}}},
 {"mark": "circle", "encoding": {"x": {"field": "group", "type": "nominal"}, "xOffset": {"field": "j", "type": "quantitative", "scale": {"domain": [-2.1, 2.1]}}, "y": {"field": "v", "type": "quantitative"}, "color": {"field": "group", "type": "nominal"}}},
 {"mark": {"type": "rule", "color": "#333"}, "encoding": {"x": {"field": "group", "type": "nominal"}, "y": {"field": "lo", "type": "quantitative"}, "y2": {"field": "hi"}}},
 {"mark": {"type": "tick", "size": 12, "thickness": 1.2, "color": "#333"}, "encoding": {"x": {"field": "group", "type": "nominal"}, "y": {"field": "hi", "type": "quantitative"}}},
 {"mark": {"type": "tick", "size": 12, "thickness": 1.2, "color": "#333"}, "encoding": {"x": {"field": "group", "type": "nominal"}, "y": {"field": "lo", "type": "quantitative"}}},
 {"mark": {"type": "text", "fontSize": 20, "dy": 6}, "encoding": {"x": {"field": "group", "type": "nominal"}, "y": {"field": "sy", "type": "quantitative"}, "text": {"field": "star"}}}
]},
{"title": "Cxcr1", "width": 115, "height": 173, "transform": [{"filter": "datum.gene === 'Cxcr1'"}], "layer": [
 {"mark": {"type": "bar", "fill": "#d5e1e7", "stroke": "#4a4a4a", "strokeWidth": 1.2}, "encoding": {"x": {"field": "group", "type": "nominal", "sort": null, "scale": {"domain": ["H₂O", "DSS", "DSS+rSema3B"], "paddingInner": 0.39, "paddingOuter": 0.36}, "axis": {"title": null}}, "y": {"field": "mean", "type": "quantitative", "scale": {"domain": [0, 5]}, "axis": {"title": "mRNA abundance (a.u.)", "values": [0, 1, 2, 3, 4, 5], "tickCount": 12, "format": "d"}}}},
 {"mark": "circle", "encoding": {"x": {"field": "group", "type": "nominal"}, "xOffset": {"field": "j", "type": "quantitative", "scale": {"domain": [-2.1, 2.1]}}, "y": {"field": "v", "type": "quantitative"}, "color": {"field": "group", "type": "nominal"}}},
 {"mark": {"type": "rule", "color": "#333"}, "encoding": {"x": {"field": "group", "type": "nominal"}, "y": {"field": "lo", "type": "quantitative"}, "y2": {"field": "hi"}}},
 {"mark": {"type": "tick", "size": 12, "thickness": 1.2, "color": "#333"}, "encoding": {"x": {"field": "group", "type": "nominal"}, "y": {"field": "hi", "type": "quantitative"}}},
 {"mark": {"type": "tick", "size": 12, "thickness": 1.2, "color": "#333"}, "encoding": {"x": {"field": "group", "type": "nominal"}, "y": {"field": "lo", "type": "quantitative"}}},
 {"mark": {"type": "rule", "color": "#555"}, "encoding": {"x": {"field": "group", "type": "nominal", "bandPosition": 0.5}, "x2": {"field": "g2", "bandPosition": 0.5}, "y": {"field": "by", "type": "quantitative"}}},
 {"mark": {"type": "rule", "color": "#555"}, "encoding": {"x": {"field": "group", "type": "nominal"}, "y": {"field": "by", "type": "quantitative"}, "y2": {"field": "bt"}}},
 {"mark": {"type": "rule", "color": "#555"}, "encoding": {"x": {"field": "g2", "type": "nominal"}, "y": {"field": "by", "type": "quantitative"}, "y2": {"field": "bt"}}},
 {"mark": {"type": "text", "fontSize": 20, "dy": 6}, "encoding": {"x": {"field": "group", "type": "nominal", "bandPosition": 1.32}, "y": {"field": "sy2", "type": "quantitative"}, "text": {"field": "bs"}}}
]}
]
},
{
"title": {"text": "B", "fontSize": 29, "fontStyle": "normal", "fontWeight": "bold", "anchor": "start", "dx": -30, "offset": -22},
"columns": 3,
"spacing": {"column": 41, "row": 11},
"concat": [
{"title": "Sema3b", "width": 115, "height": 173, "transform": [{"filter": "datum.gene === 'Sema3b'"}], "layer": [
 {"mark": {"type": "bar", "fill": "#d5e1e7", "stroke": "#4a4a4a", "strokeWidth": 1.2}, "encoding": {"x": {"field": "group", "type": "nominal", "sort": null, "scale": {"domain": ["H₂O", "DSS", "DSS+rSema3B"], "paddingInner": 0.39, "paddingOuter": 0.36}, "axis": {"title": null, "domainWidth": 2, "domainColor": "#808080"}}, "y": {"field": "mean", "type": "quantitative", "scale": {"domain": [0, 2.5]}, "axis": {"title": "mRNA abundance (a.u.)", "values": [0, 0.5, 1, 1.5, 2, 2.5], "tickCount": 12, "labelExpr": "datum.value == 0 ? '0' : format(datum.value, '.1f')"}}}},
 {"mark": "circle", "encoding": {"x": {"field": "group", "type": "nominal"}, "xOffset": {"field": "j", "type": "quantitative", "scale": {"domain": [-2.1, 2.1]}}, "y": {"field": "v", "type": "quantitative"}, "color": {"field": "group", "type": "nominal"}}},
 {"mark": {"type": "rule", "color": "#333"}, "encoding": {"x": {"field": "group", "type": "nominal"}, "y": {"field": "lo", "type": "quantitative"}, "y2": {"field": "hi"}}},
 {"mark": {"type": "tick", "size": 12, "thickness": 1.2, "color": "#333"}, "encoding": {"x": {"field": "group", "type": "nominal"}, "y": {"field": "hi", "type": "quantitative"}}},
 {"mark": {"type": "tick", "size": 12, "thickness": 1.2, "color": "#333"}, "encoding": {"x": {"field": "group", "type": "nominal"}, "y": {"field": "lo", "type": "quantitative"}}},
 {"mark": {"type": "rule", "color": "#555"}, "encoding": {"x": {"field": "group", "type": "nominal", "bandPosition": 0.5}, "x2": {"field": "g2", "bandPosition": 0.5}, "y": {"field": "by", "type": "quantitative"}}},
 {"mark": {"type": "rule", "color": "#555"}, "encoding": {"x": {"field": "group", "type": "nominal"}, "y": {"field": "by", "type": "quantitative"}, "y2": {"field": "bt"}}},
 {"mark": {"type": "rule", "color": "#555"}, "encoding": {"x": {"field": "g2", "type": "nominal"}, "y": {"field": "by", "type": "quantitative"}, "y2": {"field": "bt"}}},
 {"mark": {"type": "text", "fontSize": 20, "dy": 6}, "encoding": {"x": {"field": "group", "type": "nominal", "bandPosition": 1.32}, "y": {"field": "sy2", "type": "quantitative"}, "text": {"field": "bs"}}}
]},
{"title": "Nrp1", "width": 115, "height": 173, "transform": [{"filter": "datum.gene === 'Nrp1'"}], "layer": [
 {"mark": {"type": "bar", "fill": "#d5e1e7", "stroke": "#4a4a4a", "strokeWidth": 1.2}, "encoding": {"x": {"field": "group", "type": "nominal", "sort": null, "scale": {"domain": ["H₂O", "DSS", "DSS+rSema3B"], "paddingInner": 0.39, "paddingOuter": 0.36}, "axis": {"title": null, "domainWidth": 2, "domainColor": "#808080"}}, "y": {"field": "mean", "type": "quantitative", "scale": {"domain": [0, 1.5]}, "axis": {"title": "mRNA abundance (a.u.)", "values": [0, 0.5, 1, 1.5], "tickCount": 12, "labelExpr": "datum.value == 0 ? '0' : format(datum.value, '.1f')"}}}},
 {"mark": "circle", "encoding": {"x": {"field": "group", "type": "nominal"}, "xOffset": {"field": "j", "type": "quantitative", "scale": {"domain": [-2.1, 2.1]}}, "y": {"field": "v", "type": "quantitative"}, "color": {"field": "group", "type": "nominal"}}},
 {"mark": {"type": "rule", "color": "#333"}, "encoding": {"x": {"field": "group", "type": "nominal"}, "y": {"field": "lo", "type": "quantitative"}, "y2": {"field": "hi"}}},
 {"mark": {"type": "tick", "size": 12, "thickness": 1.2, "color": "#333"}, "encoding": {"x": {"field": "group", "type": "nominal"}, "y": {"field": "hi", "type": "quantitative"}}},
 {"mark": {"type": "tick", "size": 12, "thickness": 1.2, "color": "#333"}, "encoding": {"x": {"field": "group", "type": "nominal"}, "y": {"field": "lo", "type": "quantitative"}}},
 {"mark": {"type": "rule", "color": "#555"}, "encoding": {"x": {"field": "group", "type": "nominal", "bandPosition": 0.5}, "x2": {"field": "g2", "bandPosition": 0.5}, "y": {"field": "by", "type": "quantitative"}}},
 {"mark": {"type": "rule", "color": "#555"}, "encoding": {"x": {"field": "group", "type": "nominal"}, "y": {"field": "by", "type": "quantitative"}, "y2": {"field": "bt"}}},
 {"mark": {"type": "rule", "color": "#555"}, "encoding": {"x": {"field": "g2", "type": "nominal"}, "y": {"field": "by", "type": "quantitative"}, "y2": {"field": "bt"}}},
 {"mark": {"type": "text", "fontSize": 20, "dy": 6}, "encoding": {"x": {"field": "group", "type": "nominal", "bandPosition": 1.32}, "y": {"field": "sy2", "type": "quantitative"}, "text": {"field": "bs"}}}
]},
{"title": "Nrp2", "width": 115, "height": 173, "transform": [{"filter": "datum.gene === 'Nrp2'"}], "layer": [
 {"mark": {"type": "bar", "fill": "#d5e1e7", "stroke": "#4a4a4a", "strokeWidth": 1.2}, "encoding": {"x": {"field": "group", "type": "nominal", "sort": null, "scale": {"domain": ["H₂O", "DSS", "DSS+rSema3B"], "paddingInner": 0.39, "paddingOuter": 0.36}, "axis": {"title": null, "domainWidth": 2, "domainColor": "#808080"}}, "y": {"field": "mean", "type": "quantitative", "scale": {"domain": [0, 1.5]}, "axis": {"title": "mRNA abundance (a.u.)", "values": [0, 0.5, 1, 1.5], "tickCount": 12, "labelExpr": "datum.value == 0 ? '0' : format(datum.value, '.1f')"}}}},
 {"mark": "circle", "encoding": {"x": {"field": "group", "type": "nominal"}, "xOffset": {"field": "j", "type": "quantitative", "scale": {"domain": [-2.1, 2.1]}}, "y": {"field": "v", "type": "quantitative"}, "color": {"field": "group", "type": "nominal"}}},
 {"mark": {"type": "rule", "color": "#333"}, "encoding": {"x": {"field": "group", "type": "nominal"}, "y": {"field": "lo", "type": "quantitative"}, "y2": {"field": "hi"}}},
 {"mark": {"type": "tick", "size": 12, "thickness": 1.2, "color": "#333"}, "encoding": {"x": {"field": "group", "type": "nominal"}, "y": {"field": "hi", "type": "quantitative"}}},
 {"mark": {"type": "tick", "size": 12, "thickness": 1.2, "color": "#333"}, "encoding": {"x": {"field": "group", "type": "nominal"}, "y": {"field": "lo", "type": "quantitative"}}}
]},
{"title": "Plxna1", "width": 115, "height": 173, "transform": [{"filter": "datum.gene === 'Plxna1'"}], "layer": [
 {"mark": {"type": "bar", "fill": "#d5e1e7", "stroke": "#4a4a4a", "strokeWidth": 1.2}, "encoding": {"x": {"field": "group", "type": "nominal", "sort": null, "scale": {"domain": ["H₂O", "DSS", "DSS+rSema3B"], "paddingInner": 0.39, "paddingOuter": 0.36}, "axis": {"title": null, "domainWidth": 2, "domainColor": "#808080"}}, "y": {"field": "mean", "type": "quantitative", "scale": {"domain": [0, 25]}, "axis": {"title": "mRNA abundance (a.u.)", "values": [0, 5, 10, 15, 20, 25], "tickCount": 12, "format": "d"}}}},
 {"mark": "circle", "encoding": {"x": {"field": "group", "type": "nominal"}, "xOffset": {"field": "j", "type": "quantitative", "scale": {"domain": [-2.1, 2.1]}}, "y": {"field": "v", "type": "quantitative"}, "color": {"field": "group", "type": "nominal"}}},
 {"mark": {"type": "rule", "color": "#333"}, "encoding": {"x": {"field": "group", "type": "nominal"}, "y": {"field": "lo", "type": "quantitative"}, "y2": {"field": "hi"}}},
 {"mark": {"type": "tick", "size": 12, "thickness": 1.2, "color": "#333"}, "encoding": {"x": {"field": "group", "type": "nominal"}, "y": {"field": "hi", "type": "quantitative"}}},
 {"mark": {"type": "tick", "size": 12, "thickness": 1.2, "color": "#333"}, "encoding": {"x": {"field": "group", "type": "nominal"}, "y": {"field": "lo", "type": "quantitative"}}},
 {"mark": {"type": "rule", "color": "#555"}, "encoding": {"x": {"field": "group", "type": "nominal", "bandPosition": 0.5}, "x2": {"field": "g2", "bandPosition": 0.5}, "y": {"field": "by", "type": "quantitative"}}},
 {"mark": {"type": "rule", "color": "#555"}, "encoding": {"x": {"field": "group", "type": "nominal"}, "y": {"field": "by", "type": "quantitative"}, "y2": {"field": "bt"}}},
 {"mark": {"type": "rule", "color": "#555"}, "encoding": {"x": {"field": "g2", "type": "nominal"}, "y": {"field": "by", "type": "quantitative"}, "y2": {"field": "bt"}}},
 {"mark": {"type": "text", "fontSize": 20, "dy": 6}, "encoding": {"x": {"field": "group", "type": "nominal", "bandPosition": 1.32}, "y": {"field": "sy2", "type": "quantitative"}, "text": {"field": "bs"}}}
]},
{"title": "Plxna2", "width": 115, "height": 173, "transform": [{"filter": "datum.gene === 'Plxna2'"}], "layer": [
 {"mark": {"type": "bar", "fill": "#d5e1e7", "stroke": "#4a4a4a", "strokeWidth": 1.2}, "encoding": {"x": {"field": "group", "type": "nominal", "sort": null, "scale": {"domain": ["H₂O", "DSS", "DSS+rSema3B"], "paddingInner": 0.39, "paddingOuter": 0.36}, "axis": {"title": null, "domainWidth": 2, "domainColor": "#808080"}}, "y": {"field": "mean", "type": "quantitative", "scale": {"domain": [0, 50]}, "axis": {"title": "mRNA abundance (a.u.)", "values": [0, 10, 20, 30, 40, 50], "tickCount": 12, "format": "d"}}}},
 {"mark": "circle", "encoding": {"x": {"field": "group", "type": "nominal"}, "xOffset": {"field": "j", "type": "quantitative", "scale": {"domain": [-2.1, 2.1]}}, "y": {"field": "v", "type": "quantitative"}, "color": {"field": "group", "type": "nominal"}}},
 {"mark": {"type": "rule", "color": "#333"}, "encoding": {"x": {"field": "group", "type": "nominal"}, "y": {"field": "lo", "type": "quantitative"}, "y2": {"field": "hi"}}},
 {"mark": {"type": "tick", "size": 12, "thickness": 1.2, "color": "#333"}, "encoding": {"x": {"field": "group", "type": "nominal"}, "y": {"field": "hi", "type": "quantitative"}}},
 {"mark": {"type": "tick", "size": 12, "thickness": 1.2, "color": "#333"}, "encoding": {"x": {"field": "group", "type": "nominal"}, "y": {"field": "lo", "type": "quantitative"}}}
]},
{"title": "Plxna4", "width": 115, "height": 173, "transform": [{"filter": "datum.gene === 'Plxna4'"}], "layer": [
 {"mark": {"type": "bar", "fill": "#d5e1e7", "stroke": "#4a4a4a", "strokeWidth": 1.2}, "encoding": {"x": {"field": "group", "type": "nominal", "sort": null, "scale": {"domain": ["H₂O", "DSS", "DSS+rSema3B"], "paddingInner": 0.39, "paddingOuter": 0.36}, "axis": {"title": null, "domainWidth": 2, "domainColor": "#808080"}}, "y": {"field": "mean", "type": "quantitative", "scale": {"domain": [0, 10]}, "axis": {"title": "mRNA abundance (a.u.)", "values": [0, 2, 4, 6, 8, 10], "tickCount": 12, "format": "d"}}}},
 {"mark": "circle", "encoding": {"x": {"field": "group", "type": "nominal"}, "xOffset": {"field": "j", "type": "quantitative", "scale": {"domain": [-2.1, 2.1]}}, "y": {"field": "v", "type": "quantitative"}, "color": {"field": "group", "type": "nominal"}}},
 {"mark": {"type": "rule", "color": "#333"}, "encoding": {"x": {"field": "group", "type": "nominal"}, "y": {"field": "lo", "type": "quantitative"}, "y2": {"field": "hi"}}},
 {"mark": {"type": "tick", "size": 12, "thickness": 1.2, "color": "#333"}, "encoding": {"x": {"field": "group", "type": "nominal"}, "y": {"field": "hi", "type": "quantitative"}}},
 {"mark": {"type": "tick", "size": 12, "thickness": 1.2, "color": "#333"}, "encoding": {"x": {"field": "group", "type": "nominal"}, "y": {"field": "lo", "type": "quantitative"}}},
 {"mark": {"type": "text", "fontSize": 20, "dy": 6}, "encoding": {"x": {"field": "group", "type": "nominal"}, "y": {"field": "sy", "type": "quantitative"}, "text": {"field": "star"}}},
 {"mark": {"type": "rule", "color": "#555"}, "encoding": {"x": {"field": "group", "type": "nominal", "bandPosition": 0.5}, "x2": {"field": "g2", "bandPosition": 0.5}, "y": {"field": "by", "type": "quantitative"}}},
 {"mark": {"type": "rule", "color": "#555"}, "encoding": {"x": {"field": "group", "type": "nominal"}, "y": {"field": "by", "type": "quantitative"}, "y2": {"field": "bt"}}},
 {"mark": {"type": "rule", "color": "#555"}, "encoding": {"x": {"field": "g2", "type": "nominal"}, "y": {"field": "by", "type": "quantitative"}, "y2": {"field": "bt"}}},
 {"mark": {"type": "text", "fontSize": 20, "dy": 6}, "encoding": {"x": {"field": "group", "type": "nominal", "bandPosition": 1.32}, "y": {"field": "sy2", "type": "quantitative"}, "text": {"field": "bs"}}}
]}
]
}
],
"spacing": 9,
"center": true,
"config": {
 "view": {"stroke": null},
 "font": "Liberation Sans",
 "legend": {"disable": true},
 "range": {"category": ["#e9b93b", "#4cbf98", "#a3a7d9"]},
 "circle": {"size": 28, "opacity": 1},
 "title": {"fontSize": 10, "fontStyle": "italic", "fontWeight": "bold", "offset": 12, "color": "#000"},
 "axis": {"domainColor": "#555", "tickColor": "#555", "labelColor": "#000", "labelFontWeight": "bold", "grid": false, "domainWidth": 1.2, "tickWidth": 1.2},
 "axisY": {"labelFontSize": 13, "tickSize": 6, "labelPadding": 4, "minExtent": 30, "maxExtent": 30, "titlePadding": 2, "titleFontSize": 10.5, "titleFontWeight": "bold", "titleColor": "#000", "labelOverlap": false, "tickCount": 12},
 "axisX": {"labelAngle": -45, "labelFontSize": 12, "tickSize": 6, "labelPadding": 3}
}
}
